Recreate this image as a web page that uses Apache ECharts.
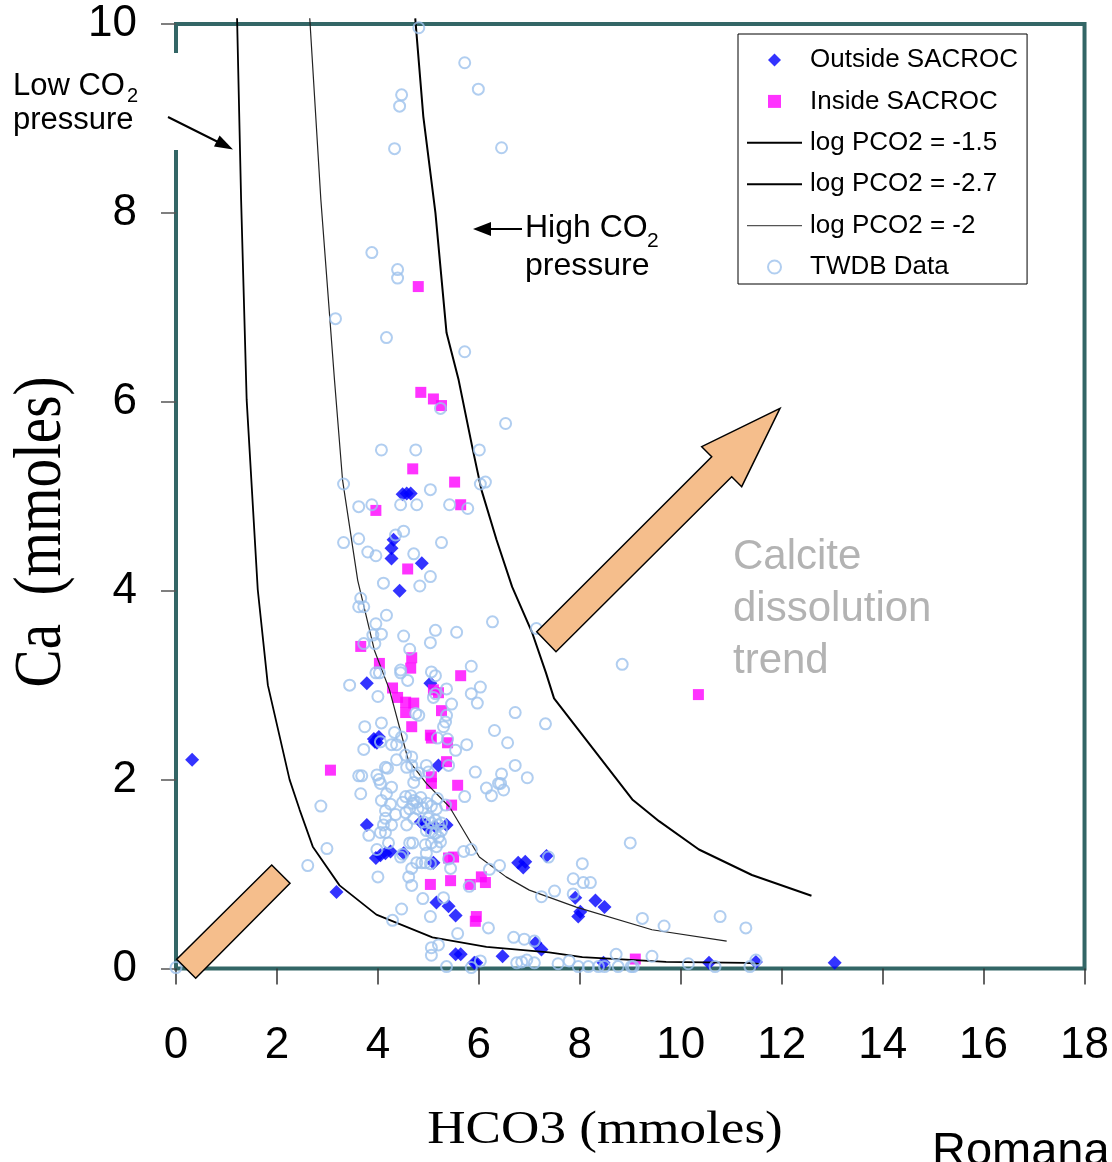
<!DOCTYPE html>
<html><head><meta charset="utf-8">
<script src="https://cdn.jsdelivr.net/npm/echarts@6/dist/echarts.min.js"></script>
<style>html,body{margin:0;padding:0;background:#fff}#c{width:1112px;height:1162px}</style>
</head><body><div id="c"></div>
<script>
// ---- axis setup ----
const xRange = {min: 0, max: 18, interval: 2};
const yRange = {min: 0, max: 10, interval: 2};

// ---- series names ----
const names = ['Outside SACROC', 'Inside SACROC', 'log PCO2 = -1.5', 'log PCO2 = -2.7', 'log PCO2 = -2', 'TWDB Data'];

// ---- data: [HCO3, Ca] ----
const outsideSacroc = [[0.32,2.21],[3.18,0.81],[4.49,5.02],[4.57,5.03],[4.65,5.03],[4.31,4.54],[4.27,4.45],[4.27,4.34],[4.87,4.29],[4.43,4.00],[3.78,3.02],[5.04,3.02],[3.92,2.43],[3.98,2.39],[4.02,2.45],[3.94,2.40],[5.20,2.15],[3.78,1.52],[4.85,1.55],[5.36,1.52],[4.94,1.52],[5.00,1.49],[5.14,1.50],[3.96,1.17],[4.05,1.20],[4.15,1.22],[4.25,1.24],[4.51,1.22],[5.10,1.12],[5.16,0.70],[5.40,0.66],[5.54,0.56],[5.54,0.15],[5.64,0.15],[5.91,0.06],[6.47,0.13],[6.78,1.12],[6.88,1.07],[6.92,1.13],[7.34,1.19],[7.12,0.27],[7.24,0.20],[7.91,0.75],[8.31,0.72],[8.49,0.65],[8.01,0.60],[7.97,0.55],[8.47,0.06],[10.56,0.06],[11.49,0.07],[13.05,0.06],[5.95,0.06]];

const insideSacroc = [[4.80,7.22],[4.85,6.10],[5.10,6.03],[5.26,5.96],[4.69,5.29],[5.52,5.15],[5.64,4.91],[3.96,4.85],[4.59,4.23],[3.66,3.41],[4.03,3.23],[4.67,3.29],[4.65,3.18],[5.64,3.10],[4.29,2.97],[4.39,2.87],[4.55,2.82],[4.71,2.81],[4.55,2.71],[4.67,2.56],[5.10,2.95],[5.20,2.92],[5.26,2.73],[5.04,2.47],[5.06,2.44],[5.38,2.39],[5.36,2.19],[3.06,2.10],[5.06,2.03],[5.06,1.96],[5.58,1.94],[5.46,1.73],[5.50,1.18],[5.40,1.17],[5.44,0.93],[5.04,0.89],[5.83,0.89],[6.05,0.97],[6.13,0.91],[5.95,0.55],[5.93,0.50],[9.10,0.10],[10.35,2.90]];

const pco2High = [[4.74,10.06],[4.90,9.02],[5.14,8.00],[5.36,6.73],[5.60,6.23],[5.87,5.52],[6.05,5.07],[6.35,4.54],[6.66,4.04],[7.06,3.55],[7.33,3.13],[7.49,2.86],[9.04,1.79],[9.57,1.56],[10.36,1.26],[11.41,0.99],[12.59,0.77]];

const pco2Low = [[1.21,10.06],[1.29,8.14],[1.40,6.02],[1.62,4.01],[1.82,3.00],[2.25,2.00],[2.45,1.68],[2.71,1.29],[3.24,0.88],[3.97,0.57],[5.08,0.33],[6.15,0.23],[7.39,0.17],[8.05,0.12],[9.71,0.07],[11.29,0.06],[11.55,0.05]];

const pco2Mid = [[2.65,10.06],[2.87,8.14],[3.14,6.23],[3.30,5.17],[3.60,4.11],[3.93,3.37],[4.23,2.95],[4.60,2.21],[4.96,1.96],[5.42,1.71],[6.01,1.18],[6.54,0.97],[7.00,0.83],[7.93,0.65],[9.43,0.41],[10.91,0.29]];

const twdbData = [[4.81,9.96],[5.72,9.59],[5.99,9.31],[4.47,9.25],[4.43,9.13],[4.33,8.68],[6.45,8.69],[3.88,7.58],[4.39,7.40],[4.39,7.31],[3.16,6.88],[4.17,6.68],[5.72,6.53],
[5.24,5.93],[6.53,5.77],[4.07,5.49],[4.75,5.49],[6.01,5.49],[3.32,5.13],[5.04,5.07],[6.03,5.13],[6.13,5.15],[3.62,4.89],[3.88,4.91],[4.45,4.91],[4.77,4.91],[5.42,4.91],[5.78,4.87],[3.32,4.51],[3.62,4.55],[4.35,4.59],[4.51,4.63],[5.26,4.51],[3.80,4.41],[3.96,4.37],[4.71,4.39],[5.04,4.15],[4.11,4.08],[4.83,4.05],[3.66,3.92],[3.62,3.83],[3.72,3.83],[4.17,3.74],[3.96,3.65],[6.27,3.67],[3.90,3.53],[4.07,3.54],[3.72,3.44],[3.94,3.44],[4.51,3.52],[5.14,3.58],[5.56,3.56],[5.04,3.45],[4.63,3.38],[5.85,3.20],[3.96,3.13],[4.03,3.13],[4.45,3.16],[4.45,3.13],[5.06,3.14],[5.14,3.10],[7.14,3.60],[8.84,3.22],
[3.44,3.00],[4.59,3.05],[4.00,2.88],[5.14,2.91],[5.10,2.87],[5.36,2.96],[5.85,2.91],[6.03,2.98],[5.97,2.81],[5.46,2.80],[4.75,2.70],[4.81,2.68],[5.36,2.68],[5.34,2.61],[4.07,2.60],[3.74,2.56],[5.30,2.56],[6.31,2.52],[6.72,2.71],[7.32,2.59],[6.57,2.39],[4.33,2.50],[4.47,2.45],[4.05,2.40],[4.27,2.37],[4.37,2.37],[3.72,2.32],[5.18,2.44],[5.38,2.43],[5.54,2.31],[5.76,2.37],[4.37,2.21],[4.55,2.26],[4.67,2.24],[4.15,2.13],[4.19,2.12],[4.57,2.13],[4.67,2.15],[4.96,2.15],[5.00,2.08],[4.81,2.07],[3.62,2.04],[3.68,2.04],[3.98,2.05],[4.02,2.00],[4.05,1.96],[5.40,2.15],[5.93,2.08],[6.45,2.06],[6.43,1.96],[6.96,2.02],[6.72,2.15],[6.15,1.91],[6.25,1.83],[6.49,1.89],[6.39,1.96],[4.75,2.05],[4.71,1.97],[4.27,1.92],[3.66,1.85],[4.17,1.85],[4.07,1.78],[4.55,1.82],[4.65,1.83],[4.71,1.78],[4.77,1.76],[4.85,1.81],[4.49,1.76],[4.69,1.75],[4.63,1.69],[4.79,1.69],[4.89,1.70],[4.97,1.75],[5.06,1.72],[5.16,1.69],[5.18,1.80],[5.34,1.73],[5.72,1.82],[4.15,1.67],[4.25,1.74],[4.35,1.63],[4.55,1.65],[4.71,1.59],[4.15,1.59],[4.11,1.52],[4.27,1.52],[4.91,1.55],[5.00,1.59],[5.06,1.54],[5.14,1.57],[5.20,1.52],[5.26,1.54],[4.96,1.46],[5.06,1.44],[5.14,1.43],[5.20,1.39],[5.26,1.46],[4.57,1.52],[4.05,1.44],[4.15,1.44],[3.82,1.41],[4.21,1.33],[4.69,1.33],[4.63,1.33],[4.94,1.31],[5.06,1.33],[5.16,1.29],[5.24,1.34],[3.98,1.26],[2.99,1.27],[2.61,1.09],[2.87,1.72],[4.49,1.21],[4.45,1.18],[4.96,1.22],[4.94,1.12],[5.04,1.11],[4.77,1.12],[4.87,1.12],[5.40,1.16],[5.44,1.06],[4.00,0.97],[4.67,1.06],[4.61,0.97],[4.67,0.88],[5.70,1.24],[5.85,1.26],[6.21,1.05],[6.41,1.09],[5.81,0.87],[4.89,0.74],[5.30,0.75],[4.47,0.63],[4.29,0.51],[5.04,0.55],[5.58,0.37],[6.19,0.43],[5.06,0.22],[5.20,0.25],[5.06,0.14],[5.36,0.02],[5.85,0.01],[6.03,0.08],[6.69,0.33],[6.90,0.31],[7.10,0.29],[6.75,0.06],[6.85,0.07],[6.95,0.09],[7.10,0.06],[7.24,0.76],[7.38,1.18],
[8.05,1.11],[7.87,0.95],[8.07,0.91],[8.21,0.91],[7.50,0.82],[7.87,0.79],[9.00,1.33],[9.24,0.53],[9.67,0.45],[10.78,0.55],[11.29,0.43],[7.57,0.05],[7.79,0.08],[7.97,0.02],[8.17,0.02],[8.37,0.02],[8.49,0.02],[8.72,0.15],[8.76,0.02],[9.02,0.02],[9.06,0.02],[9.43,0.13],[10.15,0.05],[10.68,0.02],[11.37,0.02],[11.49,0.09],[0.0,0.01]];

// ---- annotation texts ----
const calciteLines = ['Calcite', 'dissolution', 'trend'];

const SANS = '"Liberation Sans", Arial, sans-serif';
const SERIF = '"Liberation Serif", "Times New Roman", serif';
const TEAL = '#336666';
const PEACH = '#F5BE8C';
const CIRCLE = '#9DC2EC';

const chart = echarts.init(document.getElementById('c'), null, {renderer: 'canvas'});

function txt(x, y, text, size, extra) {
  return Object.assign({type: 'text', x: x, y: y, z: 100,
    style: {text: text, font: size + 'px ' + SANS, fill: '#000', verticalAlign: 'middle', align: 'left'}}, extra || {});
}

const graphics = [
  // gap in left frame behind the "Low CO2" label
  {type: 'rect', z: 100, shape: {x: 168, y: 53, width: 16, height: 97}, style: {fill: '#fff'}},
  txt(13, 86, 'Low CO', 31),
  txt(127, 96, '2', 20),
  txt(13, 120, 'pressure', 31),
  {type: 'line', z: 100, shape: {x1: 168, y1: 117, x2: 220, y2: 143}, style: {stroke: '#000', lineWidth: 2}},
  {type: 'polygon', z: 100, shape: {points: [[233, 149.5], [214, 146.5], [219.6, 135.6]]}, style: {fill: '#000'}},
  txt(525, 228, 'High CO', 32),
  txt(647, 241, '2', 21),
  txt(525, 266, 'pressure', 32),
  {type: 'line', z: 100, shape: {x1: 522, y1: 229, x2: 488, y2: 229}, style: {stroke: '#000', lineWidth: 2}},
  {type: 'polygon', z: 100, shape: {points: [[473, 229], [491, 222], [491, 236]]}, style: {fill: '#000'}},
  // calcite dissolution trend arrow
  {type: 'polygon', z: 90, shape: {points: [[536.7, 631.7], [711.7, 456.7], [701.7, 446.7], [780, 408.3], [741.7, 486.7], [731.7, 476.7], [556, 651.7]]},
    style: {fill: PEACH, stroke: '#000', lineWidth: 1.5}},
  {type: 'polygon', z: 90, shape: {points: [[271.7, 865], [290, 883.3], [195.7, 978.3], [176.7, 959.3]]},
    style: {fill: PEACH, stroke: '#000', lineWidth: 1.5}},
  // axis titles
  {type: 'text', x: 42, y: 532, rotation: Math.PI / 2, scaleX: 0.84, z: 100,
    style: {text: 'Ca  (mmoles)', font: '68px ' + SERIF, fill: '#000', align: 'center', verticalAlign: 'middle'}},
  {type: 'text', x: 605, y: 1131, scaleX: 1.13, z: 100,
    style: {text: 'HCO3 (mmoles)', font: '47px ' + SERIF, fill: '#000', align: 'center', verticalAlign: 'middle'}},
  txt(932, 1152, 'Romanak', 47)
];
calciteLines.forEach(function (s, i) {
  graphics.push({type: 'text', x: 733, y: 557 + i * 52, z: 100,
    style: {text: s, font: '42px ' + SANS, fill: '#B3B3B3', verticalAlign: 'middle', align: 'left'}});
});

const diamondIcon = 'path://M6.5,0L13,6.5L6.5,13L0,6.5Z';
const squareIcon = 'path://M0,0H12V12H0Z';
const lineIcon = 'path://M0,0H55V2H0Z';
const thinLineIcon = 'path://M0,0H55V1.3H0Z';

const option = {
  animation: false,
  backgroundColor: '#fff',
  grid: {left: 176, right: 24.5, top: 24, bottom: 193.5, show: true, borderColor: TEAL, borderWidth: 4, backgroundColor: 'transparent'},
  xAxis: {
    type: 'value', min: xRange.min, max: xRange.max, interval: xRange.interval,
    axisLine: {show: false}, splitLine: {show: false},
    axisTick: {show: true, inside: false, length: 16, lineStyle: {color: '#333', width: 1.5}},
    axisLabel: {fontSize: 44, fontFamily: SANS, color: '#000', margin: 55}
  },
  yAxis: {
    type: 'value', min: yRange.min, max: yRange.max, interval: yRange.interval,
    axisLine: {show: false}, splitLine: {show: false},
    axisTick: {show: true, inside: false, length: 15, lineStyle: {color: '#555', width: 1.5}},
    axisLabel: {fontSize: 44, fontFamily: SANS, color: '#000', margin: 39, padding: [8, 0, 0, 0]}
  },
  legend: {
    left: 738, top: 34, orient: 'vertical',
    padding: [13, 9, 4, 9], itemGap: 15.4, itemWidth: 55, itemHeight: 13,
    symbolKeepAspect: true,
    borderColor: '#000', borderWidth: 1, backgroundColor: '#fff',
    textStyle: {fontSize: 26, fontFamily: SANS, color: '#000', padding: [0, 0, 0, 3]},
    data: [
      {name: names[0], icon: diamondIcon, itemStyle: {color: '#0000FF', borderWidth: 0}},
      {name: names[1], icon: squareIcon, itemStyle: {color: '#FF00FF', borderWidth: 0}},
      {name: names[2], icon: lineIcon, itemStyle: {color: '#000', borderWidth: 0}},
      {name: names[3], icon: lineIcon, itemStyle: {color: '#000', borderWidth: 0}},
      {name: names[4], icon: thinLineIcon, itemStyle: {color: '#555', borderWidth: 0}},
      {name: names[5], icon: 'circle', itemStyle: {color: 'rgba(0,0,0,0)', borderColor: CIRCLE, borderWidth: 2}}
    ]
  },
  series: [
    {name: names[0], type: 'scatter', data: outsideSacroc, symbol: 'diamond', symbolSize: 14,
      itemStyle: {color: '#0000FF'}, z: 3},
    {name: names[1], type: 'scatter', data: insideSacroc, symbol: 'rect', symbolSize: 11,
      itemStyle: {color: '#FF00FF'}, z: 3},
    {name: names[2], type: 'line', data: pco2High, symbol: 'none', showSymbol: false, clip: false,
      lineStyle: {color: '#000', width: 2}, itemStyle: {color: '#000'}, z: 4},
    {name: names[3], type: 'line', data: pco2Low, symbol: 'none', showSymbol: false, clip: false,
      lineStyle: {color: '#000', width: 1.8}, itemStyle: {color: '#000'}, z: 4},
    {name: names[4], type: 'line', data: pco2Mid, symbol: 'none', showSymbol: false, clip: false,
      lineStyle: {color: '#222', width: 1.2}, itemStyle: {color: '#444'}, z: 4},
    {name: names[5], type: 'scatter', data: twdbData, symbol: 'circle', symbolSize: 11,
      itemStyle: {color: 'rgba(0,0,0,0)', borderColor: CIRCLE, borderWidth: 2}, z: 5}
  ],
  graphic: graphics
};
chart.setOption(option);
</script></body></html>
